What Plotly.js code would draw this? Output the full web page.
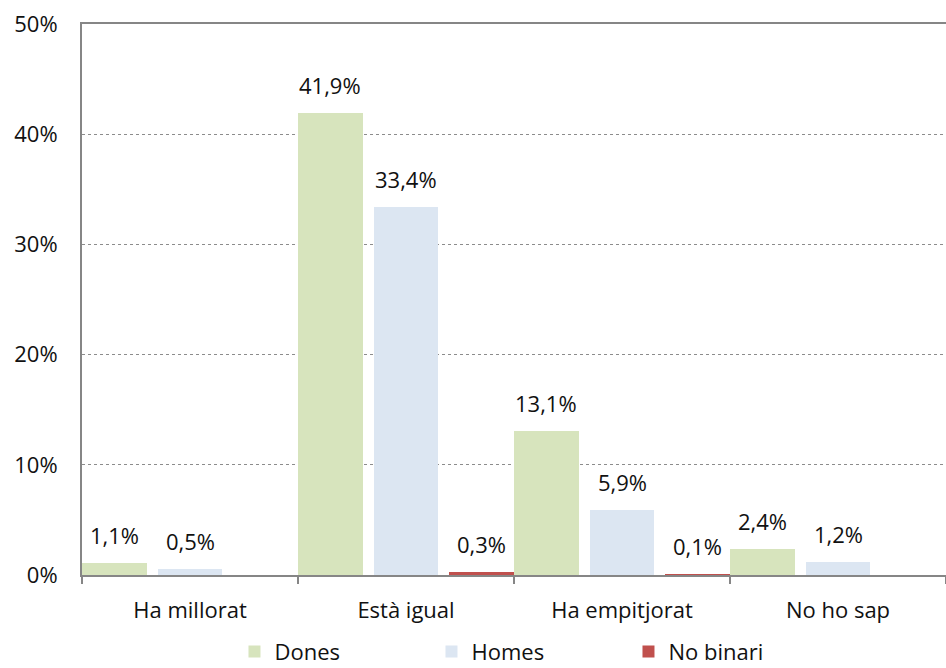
<!DOCTYPE html>
<html><head><meta charset="utf-8">
<script src="https://cdn.plot.ly/plotly-3.0.1.min.js"></script>
<style>html,body{margin:0;padding:0;overflow:hidden;background:#fff}#chart{width:946px;height:690px}</style>
</head><body><div id="chart"></div>
<script>
const categories = ["Ha millorat", "Està igual", "Ha empitjorat", "No ho sap"];
const dones = [1.1, 41.9, 13.1, 2.4];
const homes = [0.5, 33.4, 5.9, 1.2];
const noBinari = [null, 0.3, 0.1, null];
const seriesNames = ["Dones", "Homes", "No binari"];
const colors = ["#D7E4BD", "#DCE6F2", "#C0504D"];
const yTicks = [0, 10, 20, 30, 40, 50];

const FONT = "'Open Sans', sans-serif";
const FS = 22;
const BW = 0.30, STEP = 0.35;
const all = [dones, homes, noBinari];
const traces = all.map((vals, j) => ({
  type: "bar", name: seriesNames[j], x: categories, y: vals,
  width: BW, offset: -0.5 + j * STEP,
  marker: {color: colors[j], line: {width: 0}},
  hoverinfo: "skip"
}));
const annotations = [];
all.forEach((vals, j) => vals.forEach((v, i) => {
  if (v === null) return;
  annotations.push({
    xref: "x", yref: "y", x: i - 0.5 + j * STEP + BW / 2, y: v,
    text: v.toFixed(1).replace(".", ",") + "%",
    showarrow: false, yanchor: "middle", yshift: 28,
    font: {family: FONT, size: FS, color: "#111"}
  });
}));

const layout = {
  width: 946, height: 690,
  margin: {l: 82, r: 0, t: 24, b: 115},
  paper_bgcolor: "#fff", plot_bgcolor: "#fff",
  font: {family: FONT, size: FS, color: "#111"},
  barmode: "group", bargap: 0, bargroupgap: 0,
  showlegend: true,
  legend: {orientation: "h", x: 0.5185, xanchor: "center", y: -0.139, yanchor: "middle",
           entrywidth: 152, font: {family: FONT, size: FS, color: "#111"}, itemwidth: 30},
  xaxis: {type: "category", range: [-0.5, 3.5], showline: true, linecolor: "#868686", linewidth: 2,
          mirror: true, tickson: "boundaries", ticks: "outside", ticklen: 7, tickcolor: "#868686",
          tickwidth: 2, showgrid: false, ticklabelstandoff: 15, automargin: false,
          tickfont: {family: FONT, size: FS, color: "#111"}},
  yaxis: {range: [0, 50], tickvals: yTicks, ticktext: yTicks.map(v => v + "%"),
          showline: true, linecolor: "#868686", linewidth: 2, ticks: "",
          showgrid: true, gridcolor: "#8c8c8c", griddash: "dot", gridwidth: 1,
          zeroline: false, ticklabelstandoff: 18, automargin: false,
          tickfont: {family: FONT, size: FS, color: "#111"}},
  annotations: annotations
};
Plotly.newPlot("chart", traces, layout, {displayModeBar: false, staticPlot: true});
</script></body></html>
